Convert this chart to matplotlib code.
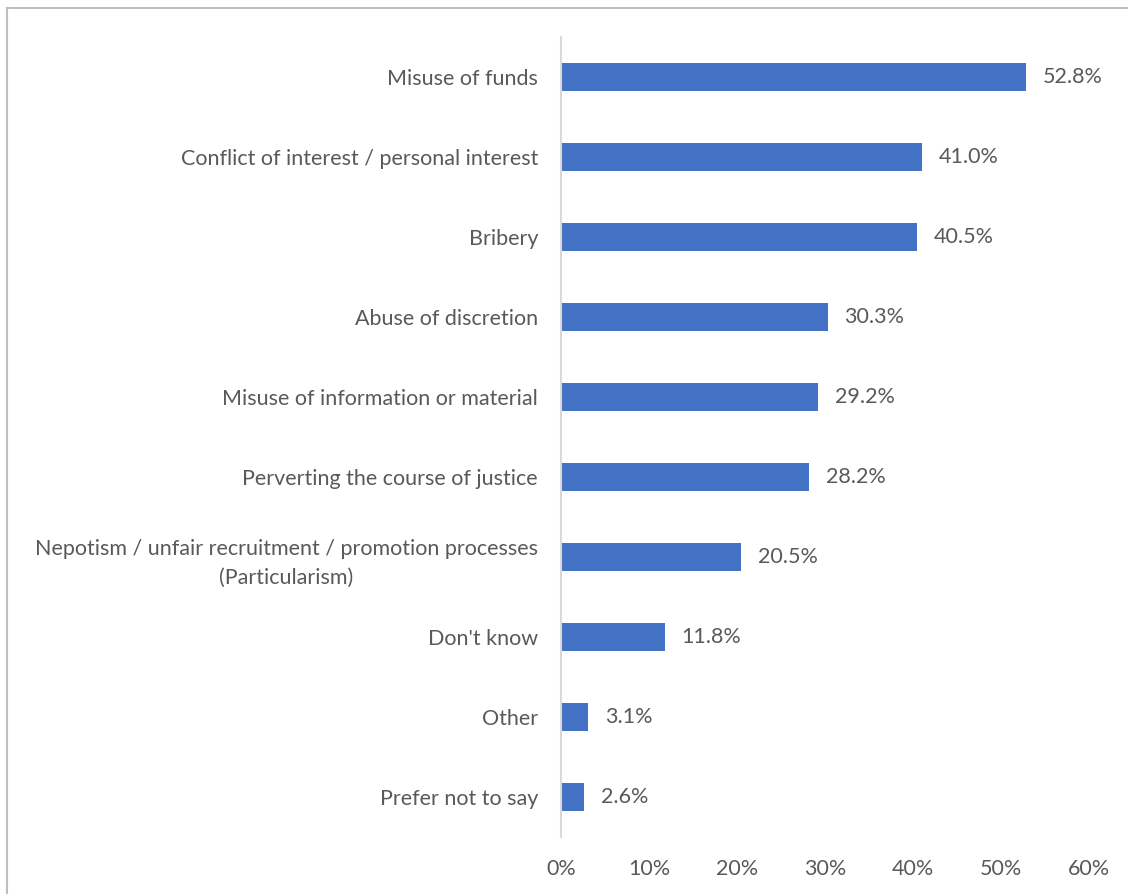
import matplotlib
matplotlib.use("Agg")
import matplotlib.pyplot as plt
from matplotlib.lines import Line2D

# categories, top to bottom
categories = [
    "Misuse of funds",
    "Conflict of interest / personal interest",
    "Bribery",
    "Abuse of discretion",
    "Misuse of information or material",
    "Perverting the course of justice",
    "Nepotism / unfair recruitment / promotion processes\n(Particularism)",
    "Don't know",
    "Other",
    "Prefer not to say",
]
values = [52.8, 41.0, 40.5, 30.3, 29.2, 28.2, 20.5, 11.8, 3.1, 2.6]
xticks = [0, 10, 20, 30, 40, 50, 60]

plt.rcParams['font.family'] = ['Lato', 'DejaVu Sans']
text_col = "#595959"
fs = 15.5

fig = plt.figure(figsize=(11.28, 8.94), dpi=100)
ax = fig.add_axes([561 / 1128, 1 - 837 / 894, 528 / 1128, 800 / 894])

y = list(range(len(categories)))
ax.barh(y, values, height=0.35, color="#4472C4")
ax.set_ylim(len(categories) - 0.5, -0.5)
ax.set_xlim(0, 60)

for yi, v in zip(y, values):
    ax.text(v + 1.9, yi, f"{v:.1f}%", va="center", ha="left",
            fontsize=fs, color=text_col)

ax.set_yticks(y)
ax.set_yticklabels(categories, fontsize=fs, color=text_col,
                   multialignment="center", linespacing=1.55)
ax.set_xticks(xticks)
ax.set_xticklabels([f"{t}%" for t in xticks], fontsize=fs, color=text_col)
ax.tick_params(axis="y", length=0, pad=16.5)
ax.tick_params(axis="x", length=0, pad=16)

for s in ["top", "right", "bottom"]:
    ax.spines[s].set_visible(False)
ax.spines["left"].set_color("#D9D9D9")
ax.spines["left"].set_linewidth(1.5)

# outer chart border (top and left edges)
fig.add_artist(Line2D([6.5 / 1128, 1.0], [1 - 7.5 / 894] * 2,
                      color="#BFBFBF", lw=1.5))
fig.add_artist(Line2D([6.5 / 1128] * 2, [0.0, 1 - 7.5 / 894],
                      color="#BFBFBF", lw=1.5))

fig.savefig("out.png", dpi=100, facecolor="white")
